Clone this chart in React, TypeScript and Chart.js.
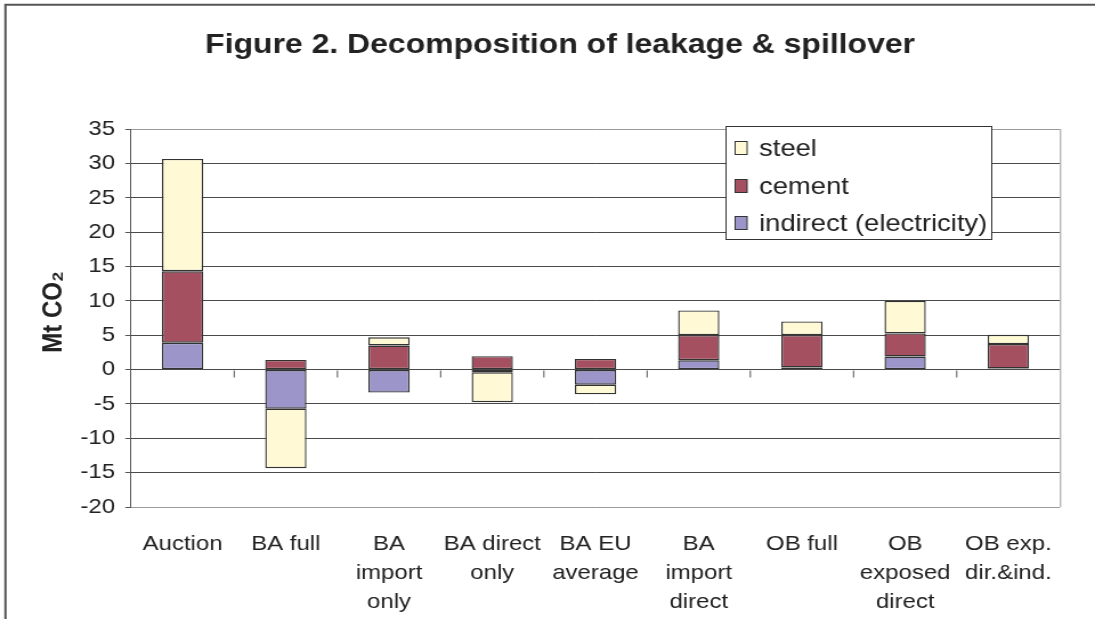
import React, { useEffect, useRef } from "react";
import { Chart, registerables } from "chart.js";

Chart.register(...registerables);

// ---- data ----
const categories: string[][] = [
  ["Auction"],
  ["BA full"],
  ["BA", "import", "only"],
  ["BA direct", "only"],
  ["BA EU", "average"],
  ["BA", "import", "direct"],
  ["OB full"],
  ["OB", "exposed", "direct"],
  ["OB exp.", "dir.&ind."],
];
const indirectValues = [3.9, -5.7, -3.35, -0.4, -2.2, 1.35, 0.3, 1.9, 0.15];
const cementValues = [10.4, 1.4, 3.5, 1.95, 1.55, 3.65, 4.7, 3.35, 3.55];
const steelValues = [16.35, -8.65, 1.2, -4.35, -1.4, 3.6, 2.0, 4.75, 1.35];
const seriesNames = ["steel", "cement", "indirect (electricity)"];
const yMin = -20;
const yMax = 35;
const yStep = 5;
const titleText = "Figure 2. Decomposition of leakage & spillover";
const yTitleText = "Mt CO\u2082";

// ---- styles ----
const FONT = "'Liberation Sans', Arial, Helvetica, sans-serif";
const STEEL = "#FFFAD5";
const CEMENT = "#A45060";
const INDIRECT = "#9B95C9";
const EDGE = "#333333";
const TEXT = "#222222";

// The reference is horizontally stretched: draw at 960 logical px, display at 1095.
const LOGICAL_W = 960;
const H = 619;

const decorPlugin = {
  id: "decor",
  beforeDraw(chart: any) {
    const ctx = chart.ctx;
    ctx.save();
    ctx.fillStyle = "#ffffff";
    ctx.fillRect(0, 0, chart.width, chart.height);
    ctx.restore();
  },
  afterDatasetsDraw(chart: any) {
    const ctx = chart.ctx;
    const x = chart.scales.x;
    const y = chart.scales.y;
    const area = chart.chartArea;
    ctx.save();
    // zero-line category tick marks
    const y0 = Math.round(y.getPixelForValue(0)) + 0.5;
    ctx.strokeStyle = "#555";
    ctx.lineWidth = 1;
    for (let i = 0; i < categories.length - 1; i++) {
      const bx = (x.getPixelForTick(i) + x.getPixelForTick(i + 1)) / 2;
      ctx.beginPath();
      ctx.moveTo(bx, y0);
      ctx.lineTo(bx, y0 + 7);
      ctx.stroke();
    }
    // plot right border
    ctx.strokeStyle = "#9a9a9a";
    ctx.beginPath();
    ctx.moveTo(area.right + 0.5, area.top);
    ctx.lineTo(area.right + 0.5, area.bottom);
    ctx.stroke();
    ctx.restore();
  },
  afterDraw(chart: any) {
    const ctx = chart.ctx;
    ctx.save();
    // outer frame
    ctx.strokeStyle = "#555";
    ctx.lineWidth = 2;
    ctx.beginPath();
    ctx.moveTo(4.8, H);
    ctx.lineTo(4.8, 4.8);
    ctx.lineTo(LOGICAL_W, 4.8);
    ctx.stroke();

    // title
    ctx.fillStyle = TEXT;
    ctx.font = `bold 28px ${FONT}`;
    ctx.textAlign = "center";
    ctx.textBaseline = "middle";
    ctx.fillText(titleText, 491, 45);

    // y title
    ctx.save();
    ctx.translate(47.5, 312);
    ctx.rotate(-Math.PI / 2);
    ctx.font = `bold 24px ${FONT}`;
    ctx.textAlign = "center";
    ctx.textBaseline = "middle";
    ctx.fillText(yTitleText, 0, 0);
    ctx.restore();

    // legend
    const lx = 636, ly = 126, lw = 233, lh = 113;
    ctx.fillStyle = "#ffffff";
    ctx.fillRect(lx, ly, lw, lh);
    ctx.strokeStyle = "#333";
    ctx.lineWidth = 1;
    ctx.strokeRect(lx + 0.5, ly + 0.5, lw, lh);
    const colors = [STEEL, CEMENT, INDIRECT];
    const rows = [148, 186, 223];
    ctx.font = `24px ${FONT}`;
    ctx.textAlign = "left";
    ctx.textBaseline = "middle";
    for (let i = 0; i < seriesNames.length; i++) {
      const cy = rows[i];
      ctx.fillStyle = colors[i];
      ctx.fillRect(644.5, cy - 6.5, 10.5, 13);
      ctx.strokeStyle = EDGE;
      ctx.strokeRect(644.5, cy - 6.5, 10.5, 13);
      ctx.fillStyle = TEXT;
      ctx.fillText(seriesNames[i], 665.5, cy + 1);
    }
    ctx.restore();
  },
};

export default function App() {
  const ref = useRef<HTMLCanvasElement | null>(null);

  useEffect(() => {
    if (!ref.current) return;
    const barOpts = {
      borderColor: EDGE,
      borderWidth: 1.4,
      borderSkipped: false as const,
      barPercentage: 0.4,
      categoryPercentage: 1.0,
    };
    const chart = new Chart(ref.current, {
      type: "bar",
      data: {
        labels: categories,
        datasets: [
          { label: seriesNames[2], data: indirectValues, backgroundColor: INDIRECT, ...barOpts },
          { label: seriesNames[1], data: cementValues, backgroundColor: CEMENT, ...barOpts },
          { label: seriesNames[0], data: steelValues, backgroundColor: STEEL, ...barOpts },
        ],
      },
      options: {
        responsive: false,
        animation: false,
        devicePixelRatio: 1,
        layout: { padding: { top: 129, right: 30.7, left: 0, bottom: 0 } },
        plugins: {
          legend: { display: false },
          title: { display: false },
          tooltip: { enabled: false },
        },
        scales: {
          x: {
            stacked: true,
            offset: true,
            grid: { display: false, drawTicks: false },
            border: { display: false },
            ticks: {
              color: TEXT,
              font: { family: FONT, size: 21, lineHeight: 1.38 },
              padding: 23,
              maxRotation: 0,
              minRotation: 0,
              autoSkip: false,
            },
            afterFit: (s: any) => {
              s.height = H - 507;
            },
          },
          y: {
            stacked: true,
            min: yMin,
            max: yMax,
            ticks: {
              stepSize: yStep,
              color: TEXT,
              font: { family: FONT, size: 21 },
              padding: 9,
            },
            grid: {
              color: (c: any) =>
                c.tick && (c.tick.value === yMax || c.tick.value === yMin) ? "#9a9a9a" : "#4a4a4a",
              tickColor: "#555",
              tickLength: 5,
              lineWidth: 1,
            },
            border: { display: true, color: "#555", width: 1 },
            afterFit: (s: any) => {
              s.width = 114.85;
            },
          },
        },
      },
      plugins: [decorPlugin],
    });
    return () => chart.destroy();
  }, []);

  return (
    <div style={{ position: "fixed", left: 0, top: 0, width: 1095, height: H, background: "#fff" }}>
      <canvas
        ref={ref}
        width={LOGICAL_W}
        height={H}
        style={{ width: "1095px", height: `${H}px`, display: "block" }}
      />
    </div>
  );
}
